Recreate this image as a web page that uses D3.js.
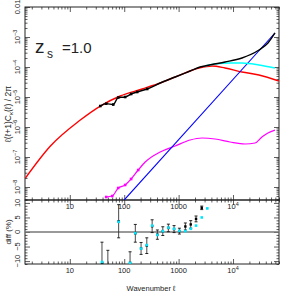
<!DOCTYPE html>
<html>
<head>
<meta charset="utf-8">
<script src="https://cdn.jsdelivr.net/npm/d3@7"></script>
<style>
  body { margin: 0; background: #fff; }
  svg { display: block; }
  text { font-family: "Liberation Sans", Arial, sans-serif; fill: #222; }
</style>
</head>
<body>
<div id="chart"></div>
<script>
// ---- data: [ell, value] ----
var theoryEll = [1.53, 4.4, 15.6, 36.3, 84.5, 214, 458, 863, 2377, 4120, 7130, 14620, 30000, 69800];
var theoryVal = [2.0e-8, 2.33e-7, 1.71e-6, 5.0e-6, 1.08e-5, 1.85e-5, 2.93e-5, 4.64e-5, 9.26e-5, 1.08e-4, 9.26e-5, 6.81e-5, 5.41e-5, 3.41e-5];

var simEll = [36.3, 46.7, 62.8, 77.6, 104, 134, 173, 264, 458, 863, 1626, 2477, 4120, 7130, 14620, 30000, 43850, 59000];
var simVal = [5.0e-6, 6.0e-6, 5.6e-6, 9.6e-6, 1.0e-5, 1.26e-5, 1.47e-5, 1.85e-5, 2.93e-5, 4.64e-5, 7.36e-5, 1.0e-4, 1.21e-4, 1.47e-4, 2.0e-4, 3.69e-4, 6.3e-4, 1.36e-3];

var cleanEll = [3063, 4677, 8810, 14620, 30000, 59000];
var cleanVal = [1.08e-4, 1.26e-4, 1.36e-4, 1.36e-4, 1.17e-4, 9.26e-5];

var noiseEll = [100, 59000];
var noiseVal = [3.7e-9, 1.36e-3];

var bModeEll = [46.7, 60.2, 77.6, 104, 134, 181, 243, 458, 863, 1626, 2698, 4677, 8810, 16600, 25400, 34000, 43850, 59000];
var bModeVal = [4.64e-9, 5.0e-9, 9.26e-9, 1.17e-8, 1.85e-8, 3.69e-8, 6.8e-8, 1.47e-7, 2.33e-7, 3.69e-7, 4.3e-7, 3.98e-7, 3.16e-7, 2.71e-7, 2.93e-7, 4.64e-7, 6.3e-7, 7.9e-7];

// bottom panel: percent difference
var diffEll   = [39, 50, 79, 128, 160, 204, 260, 326, 407, 512, 648, 824, 1033, 1330, 1670, 2090, 2660, 3370];
var diffBlack = [-11, -13, 3.7, -10.6, -0.45, -5.65, -4.7, 2.0, -0.9, 0.3, 1.4, 1.0, 0.3, 1.9, 2.6, 4.5, 8.3];
var diffErr   = [7.5, 6.7, 5.7, 3.8, 3.05, 2.05, 2.7, 2.2, 1.6, 1.5, 1.3, 1.2, 1.0, 1.2, 1.3, 1.0, 0.6];
var diffCyan  = [-10.3, -12, 3.5, -10.6, -0.4, -5.7, -4.5, 2.2, -1.0, 0.3, 1.5, 1.1, 0.4, 0.3, 1.1, 2.2, 5.0, 8.1];

var xMajor = [10, 100, 1000, 10000];
var yTopMajor = [1e-8, 1e-7, 1e-6, 1e-5, 1e-4, 1e-3, 1e-2];
var yBotMajor = [-10, -5, 0, 5, 10];

// ---- layout ----
var width = 284, height = 292;
var margin = { left: 25, right: 279, top: 7, mid: 200, bottom: 264 };

var x = d3.scaleLog().domain([1.5, 7e4]).range([margin.left, margin.right]);
var yTop = d3.scaleLog().domain([Math.pow(10, -8.433), 1e-2]).range([margin.mid, margin.top]);
var yBot = d3.scaleLinear().domain([-11, 11]).range([margin.bottom, margin.mid]);

var svg = d3.select("#chart").append("svg")
    .attr("width", width)
    .attr("height", height);

var defs = svg.append("defs");
defs.append("clipPath").attr("id", "clipTop").append("rect")
    .attr("x", margin.left).attr("y", margin.top)
    .attr("width", margin.right - margin.left).attr("height", margin.mid - margin.top);
defs.append("clipPath").attr("id", "clipBot").append("rect")
    .attr("x", margin.left).attr("y", margin.mid)
    .attr("width", margin.right - margin.left).attr("height", margin.bottom - margin.mid);

// minor ticks for a log scale
function logMinors(scale) {
    var d = scale.domain(), out = [];
    var lo = Math.floor(Math.log10(d[0])), hi = Math.ceil(Math.log10(d[1]));
    for (var k = lo; k <= hi; k++) {
        for (var m = 2; m <= 9; m++) {
            var v = m * Math.pow(10, k);
            if (v >= d[0] && v <= d[1]) out.push(v);
        }
    }
    return out;
}

// draw an inward tick row with d3 axes (major + minor)
function tickRow(axisFn, scale, majors, minors, transform) {
    [[majors, 5], [minors, 2.5]].forEach(function(p) {
        var g = svg.append("g")
            .attr("transform", transform)
            .call(axisFn(scale).tickValues(p[0]).tickSize(p[1]).tickFormat(""));
        g.select(".domain").remove();
        g.selectAll("line").attr("stroke", "#333").attr("stroke-width", 0.8);
    });
}

var xMinor = logMinors(x);
var yTopMinor = logMinors(yTop);
var yBotMinor = d3.range(-11, 12).filter(function(v) { return v % 5 !== 0; });

// top panel ticks
tickRow(d3.axisBottom, x, xMajor, xMinor, "translate(0," + margin.top + ")");
tickRow(d3.axisTop, x, xMajor, xMinor, "translate(0," + margin.mid + ")");
tickRow(d3.axisRight, yTop, yTopMajor, yTopMinor, "translate(" + margin.left + ",0)");
tickRow(d3.axisLeft, yTop, yTopMajor, yTopMinor, "translate(" + margin.right + ",0)");
// bottom panel ticks
tickRow(d3.axisBottom, x, xMajor, xMinor, "translate(0," + margin.mid + ")");
tickRow(d3.axisTop, x, xMajor, xMinor, "translate(0," + margin.bottom + ")");
tickRow(d3.axisRight, yBot, yBotMajor, yBotMinor, "translate(" + margin.left + ",0)");
tickRow(d3.axisLeft, yBot, yBotMajor, yBotMinor, "translate(" + margin.right + ",0)");

// frames
svg.append("rect").attr("x", margin.left).attr("y", margin.top)
    .attr("width", margin.right - margin.left).attr("height", margin.mid - margin.top)
    .attr("fill", "none").attr("stroke", "#222").attr("stroke-width", 1);
svg.append("rect").attr("x", margin.left).attr("y", margin.mid)
    .attr("width", margin.right - margin.left).attr("height", margin.bottom - margin.mid)
    .attr("fill", "none").attr("stroke", "#222").attr("stroke-width", 1);

// ---- top panel curves ----
var line = d3.line()
    .x(function(d) { return x(d[0]); })
    .y(function(d) { return yTop(d[1]); })
    .curve(d3.curveMonotoneX);

var topG = svg.append("g").attr("clip-path", "url(#clipTop)");

function series(ells, vals, color, w) {
    var pts = d3.zip(ells, vals);
    topG.append("path").datum(pts)
        .attr("d", line)
        .attr("fill", "none")
        .attr("stroke", color)
        .attr("stroke-width", w);
    return pts;
}

series(theoryEll, theoryVal, "#ff0000", 1.4);
var bPts = series(bModeEll, bModeVal, "#ff00ff", 1.2);
series(noiseEll, noiseVal, "#0000ff", 1.1);
series(cleanEll, cleanVal, "#00ffff", 1.5);
var sPts = series(simEll, simVal, "#000", 1.4);

// small square markers at low ell
topG.selectAll("rect.bm").data(bPts.slice(0, 6)).enter().append("rect")
    .attr("class", "bm")
    .attr("x", function(d) { return x(d[0]) - 1.3; })
    .attr("y", function(d) { return yTop(d[1]) - 1.3; })
    .attr("width", 2.6).attr("height", 2.6)
    .attr("fill", "#ff00ff");
topG.selectAll("rect.sm").data(sPts.slice(0, 8)).enter().append("rect")
    .attr("class", "sm")
    .attr("x", function(d) { return x(d[0]) - 1.3; })
    .attr("y", function(d) { return yTop(d[1]) - 1.3; })
    .attr("width", 2.6).attr("height", 2.6)
    .attr("fill", "#000");

// ---- bottom panel ----
var botG = svg.append("g").attr("clip-path", "url(#clipBot)");

botG.append("line")
    .attr("x1", margin.left).attr("x2", margin.right)
    .attr("y1", yBot(0)).attr("y2", yBot(0))
    .attr("stroke", "#777").attr("stroke-width", 1.3);

var diffPts = diffBlack.map(function(v, i) { return { ell: diffEll[i], v: v, e: diffErr[i] }; });

var bars = botG.selectAll("g.err").data(diffPts).enter().append("g").attr("class", "err");
bars.append("line")
    .attr("x1", function(d) { return x(d.ell); })
    .attr("x2", function(d) { return x(d.ell); })
    .attr("y1", function(d) { return yBot(d.v - d.e); })
    .attr("y2", function(d) { return yBot(d.v + d.e); })
    .attr("stroke", "#333").attr("stroke-width", 0.9);
[-1, 1].forEach(function(s) {
    bars.append("line")
        .attr("x1", function(d) { return x(d.ell) - 1.5; })
        .attr("x2", function(d) { return x(d.ell) + 1.5; })
        .attr("y1", function(d) { return yBot(d.v + s * d.e); })
        .attr("y2", function(d) { return yBot(d.v + s * d.e); })
        .attr("stroke", "#111").attr("stroke-width", 0.9);
});
bars.append("rect")
    .attr("x", function(d) { return x(d.ell) - 1.2; })
    .attr("y", function(d) { return yBot(d.v) - 1.2; })
    .attr("width", 2.4).attr("height", 2.4)
    .attr("fill", "#000");

botG.selectAll("rect.cy").data(d3.zip(diffEll, diffCyan)).enter().append("rect")
    .attr("class", "cy")
    .attr("x", function(d) { return x(d[0]) - 1.3; })
    .attr("y", function(d) { return yBot(d[1]) - 1.3; })
    .attr("width", 2.6).attr("height", 2.6)
    .attr("fill", "#00e5ff");

// ---- labels ----
function xLabel(v, y) {
    var k = Math.round(Math.log10(v));
    var t = svg.append("text")
        .attr("x", x(v)).attr("y", y)
        .attr("text-anchor", "middle")
        .attr("font-size", 7.5);
    if (k < 4) {
        t.text(String(v));
    } else {
        t.text("10");
        t.append("tspan").attr("dy", -3).attr("font-size", 5.5).text(k);
    }
}
xMajor.forEach(function(v) { xLabel(v, 208.5); xLabel(v, 273); });

yTopMajor.forEach(function(v) {
    var k = Math.round(Math.log10(v));
    var t = svg.append("text")
        .attr("transform", "translate(20," + yTop(v) + ") rotate(-90)")
        .attr("text-anchor", "middle")
        .attr("font-size", 7.5);
    if (k === -2) {
        t.text("0.01");
    } else {
        t.text("10");
        t.append("tspan").attr("dy", -3).attr("font-size", 5.5).text("\u2212" + (-k));
    }
});

yBotMajor.forEach(function(v) {
    svg.append("text")
        .attr("transform", "translate(20," + yBot(v) + ") rotate(-90)")
        .attr("text-anchor", "middle")
        .attr("font-size", 7.5)
        .text(v < 0 ? "\u2212" + (-v) : String(v));
});

// axis titles
var yTitle = svg.append("text")
    .attr("transform", "translate(11,114) rotate(-90)")
    .attr("text-anchor", "middle")
    .attr("font-size", 8.5);
yTitle.append("tspan").text("\u2113(\u2113+1)C");
yTitle.append("tspan").attr("dy", 2).attr("font-size", 6).text("\u03ba");
yTitle.append("tspan").attr("dy", -2).text("(\u2113)  /  2\u03c0");

svg.append("text")
    .attr("transform", "translate(11,232) rotate(-90)")
    .attr("text-anchor", "middle")
    .attr("font-size", 8)
    .text("diff  (%)");

svg.append("text")
    .attr("x", 151).attr("y", 291)
    .attr("text-anchor", "middle")
    .attr("font-size", 7.5)
    .text("Wavenumber \u2113");

// redshift annotation
svg.append("text").attr("x", 35).attr("y", 53).attr("font-size", 19).text("z");
svg.append("text").attr("x", 47).attr("y", 57.5).attr("font-size", 12).text("s");
svg.append("text").attr("x", 62).attr("y", 53).attr("font-size", 15).text("=1.0");
</script>
</body>
</html>
